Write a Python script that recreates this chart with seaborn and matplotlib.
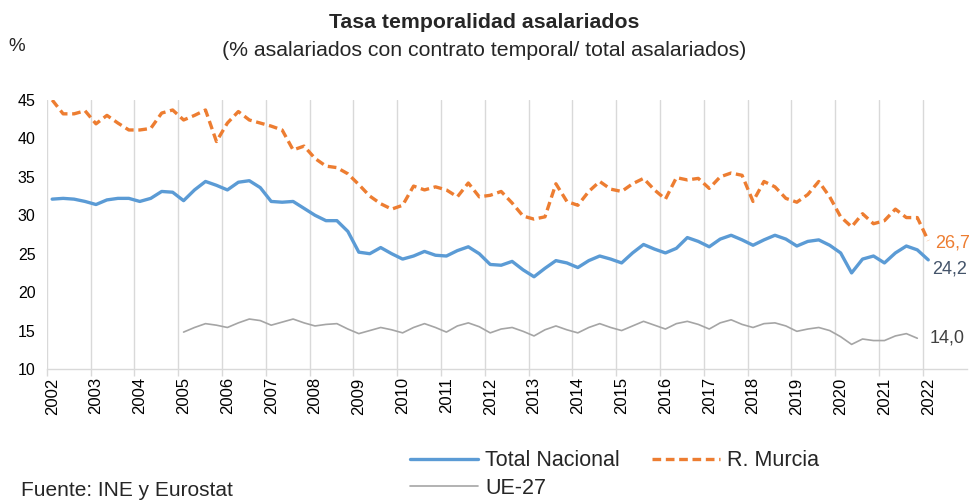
import numpy as np
import pandas as pd
import seaborn as sns
import matplotlib.pyplot as plt

# Data (quarterly, 2002T1 .. 2022T1)

years = list(range(2002, 2023))

total_nacional = [
    32.1, 32.2, 32.1, 31.8, 31.4, 32.0, 32.2, 32.2, 31.8, 32.2, 33.1, 33.0,
    31.9, 33.3, 34.4, 33.9, 33.3, 34.3, 34.5, 33.6, 31.8, 31.7, 31.8, 30.9,
    30.0, 29.3, 29.3, 27.9, 25.2, 25.0, 25.8, 25.0, 24.3, 24.7, 25.3, 24.8,
    24.7, 25.4, 25.9, 25.0, 23.6, 23.5, 24.0, 22.9, 22.0, 23.1, 24.1, 23.8,
    23.2, 24.1, 24.7, 24.3, 23.8, 25.1, 26.2, 25.6, 25.1, 25.7, 27.1, 26.6,
    25.9, 26.9, 27.4, 26.8, 26.1, 26.8, 27.4, 26.9, 26.0, 26.6, 26.8, 26.1,
    25.1, 22.5, 24.3, 24.7, 23.8, 25.1, 26.0, 25.5, 24.2,
]

r_murcia = [
    45.0, 43.2, 43.2, 43.6, 41.9, 43.0, 42.0, 41.1, 41.1, 41.3, 43.3, 43.7,
    42.4, 43.0, 43.7, 39.6, 42.0, 43.5, 42.4, 42.0, 41.6, 41.1, 38.5, 39.0,
    37.4, 36.4, 36.2, 35.4, 34.0, 32.5, 31.5, 30.8, 31.3, 33.8, 33.3, 33.7,
    33.3, 32.4, 34.2, 32.4, 32.6, 33.1, 31.6, 29.9, 29.5, 29.8, 34.1, 31.8,
    31.3, 33.1, 34.4, 33.4, 33.1, 34.1, 34.8, 33.3, 32.1, 34.9, 34.6, 34.8,
    33.5, 35.0, 35.5, 35.2, 31.8, 34.4, 33.7, 32.2, 31.7, 32.7, 34.4, 32.4,
    29.8, 28.5, 30.2, 28.9, 29.3, 30.8, 29.7, 29.7, 26.7,
]

# UE-27 starts in 2005T1 and ends in 2021T4
ue27_start = 12
ue27 = [
    14.8, 15.4, 15.9, 15.7, 15.4, 16.0, 16.5, 16.3, 15.7, 16.1, 16.5, 16.0,
    15.6, 15.8, 15.9, 15.2, 14.6, 15.0, 15.4, 15.1, 14.7, 15.4, 15.9, 15.4,
    14.8, 15.6, 16.0, 15.5, 14.7, 15.2, 15.4, 14.9, 14.3, 15.1, 15.6, 15.1,
    14.7, 15.4, 15.9, 15.4, 15.0, 15.6, 16.2, 15.7, 15.2, 15.9, 16.2, 15.8,
    15.2, 16.0, 16.4, 15.8, 15.4, 15.9, 16.0, 15.6, 14.9, 15.2, 15.4, 15.0,
    14.2, 13.2, 13.9, 13.7, 13.7, 14.3, 14.6, 14.0,
]

# Config

BLUE = "#5B9BD5"
ORANGE = "#ED7D31"
GREY = "#A5A5A5"

sns.set_theme(style="white")
plt.rcParams["font.family"] = ["Liberation Sans", "DejaVu Sans"]

df_tn = pd.DataFrame({"pos": np.arange(len(total_nacional)) + 0.5, "val": total_nacional})
df_mu = pd.DataFrame({"pos": np.arange(len(r_murcia)) + 0.5, "val": r_murcia})
df_ue = pd.DataFrame({"pos": np.arange(len(ue27)) + ue27_start + 0.5, "val": ue27})

fig = plt.figure(figsize=(9.69, 5.01), dpi=100)
ax = fig.add_axes([0.0482, 0.2635, 0.9493, 0.5369])

sns.lineplot(data=df_tn, x="pos", y="val", ax=ax, color=BLUE, lw=2.4,
             label="Total Nacional")
sns.lineplot(data=df_ue, x="pos", y="val", ax=ax, color=GREY, lw=1.2,
             label="UE-27")
sns.lineplot(data=df_mu, x="pos", y="val", ax=ax, color=ORANGE, lw=2.4,
             label="R. Murcia")
ax.lines[2].set_dashes((2.6, 1.4))

# Axes

n_cat = len(years) * 4
ax.set_xlim(0, n_cat)
ax.set_ylim(10, 45)
ax.set_yticks(range(10, 46, 5))
ax.set_xticks(np.arange(0, len(years) * 4 - 3, 4))
ax.set_xticklabels([])
ax.set_xticks(np.arange(0, len(years) * 4 - 3, 4) + 0.5, minor=True)
ax.set_xticklabels([str(y) for y in years], minor=True, rotation=90,
                   fontsize=12, color="#000000")
ax.tick_params(axis="x", which="major", length=5, color="#D9D9D9", width=1,
               direction="out", bottom=True)
ax.tick_params(axis="x", which="minor", length=0, pad=6)
ax.tick_params(axis="y", length=0, labelsize=11.5, labelcolor="#000000", pad=8)
ax.set_xlabel("")
ax.set_ylabel("")

ax.grid(axis="x", which="major", color="#D9D9D9", lw=1)
ax.grid(axis="y", visible=False)
for s in ["top", "right", "left"]:
    ax.spines[s].set_visible(False)
ax.spines["bottom"].set_color("#D9D9D9")
ax.spines["bottom"].set_linewidth(1)

# End labels

ax.text(len(r_murcia) - 0.5 + 0.65, r_murcia[-1] - 0.35, "26,7", color=ORANGE,
        fontsize=13, va="center", ha="left")
ax.text(len(total_nacional) - 0.5 + 0.35, total_nacional[-1] - 1.2, "24,2",
        color="#44546A", fontsize=13, va="center", ha="left")
ax.text(ue27_start + len(ue27) - 0.5 + 1.15, ue27[-1], "14,0",
        color="#404040", fontsize=13, va="center", ha="left")

# Titles

fig.text(0.5, 0.955, "Tasa temporalidad asalariados", ha="center",
         va="center", fontsize=15.3, fontweight="bold")
fig.text(0.5, 0.900, "(% asalariados con contrato temporal/ total asalariados)",
         ha="center", va="center", fontsize=15.3)
fig.text(0.009, 0.908, "%", ha="left", va="center", fontsize=13.5)
fig.text(0.022, 0.02, "Fuente: INE y Eurostat", ha="left", va="center",
         fontsize=15)

# Legend

handles, labels = ax.get_legend_handles_labels()
ax.legend(handles, labels, ncol=2, loc="center left",
          bbox_to_anchor=(0.386, -0.392), frameon=False, fontsize=15.5,
          handlelength=3.15, handletextpad=0.33, columnspacing=1.5,
          labelspacing=0.3, borderaxespad=0)

fig.savefig("out.png", dpi=100)
